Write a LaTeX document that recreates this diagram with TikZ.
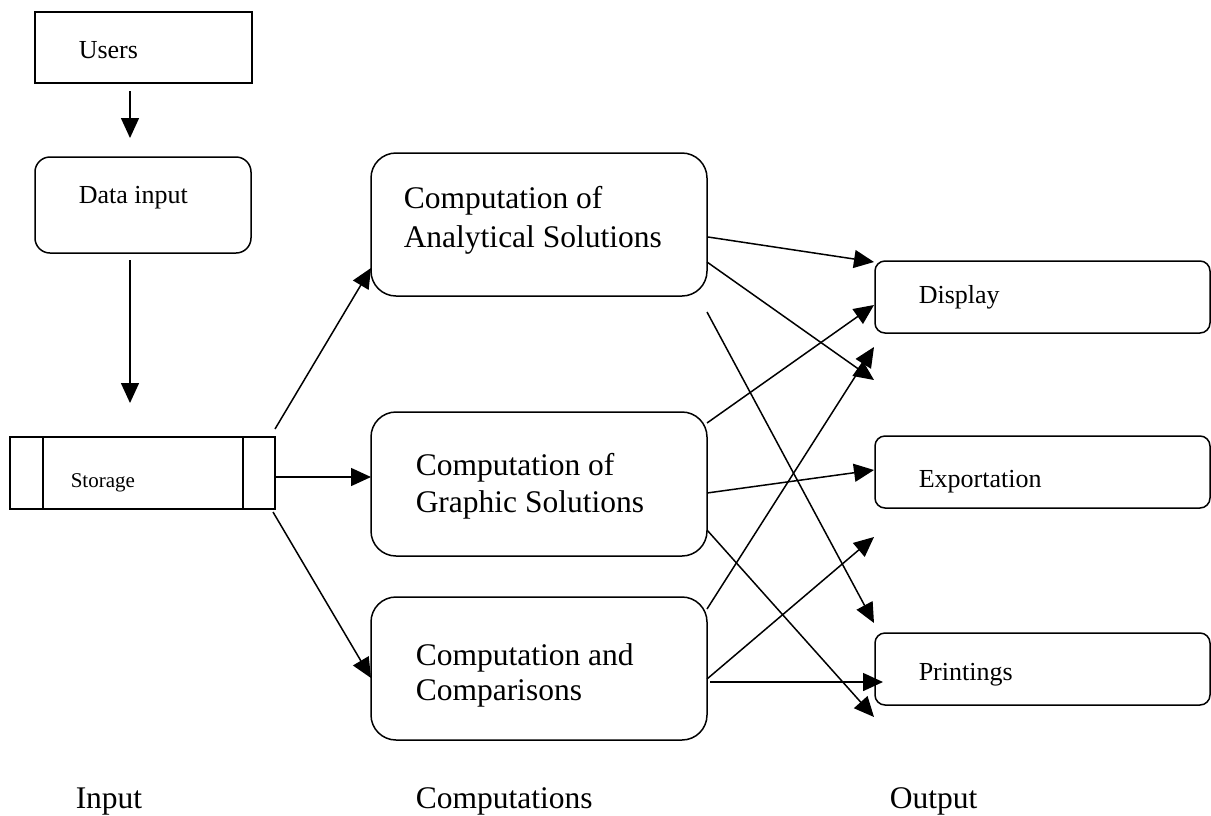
\documentclass[tikz,border=0pt]{standalone}
\usepackage{fontspec}
\setmainfont{Liberation Serif}
\usetikzlibrary{arrows.meta}
\begin{document}
\begin{tikzpicture}[x=1pt,y=-1pt,line width=1.5pt,
  >={Triangle[length=20pt,width=18pt]},
  sqbox/.style={draw,rectangle,inner sep=0pt,outer sep=0pt},
  rbox/.style={draw,rectangle,rounded corners=#1,inner sep=0pt,outer sep=0pt},
  smalltxt/.style={anchor=base west,inner sep=0pt,font=\fontsize{26}{30}\selectfont},
  bigtxt/.style={anchor=base west,inner sep=0pt,font=\fontsize{31.5}{37}\selectfont},
  arr/.style={->}]
\useasboundingbox (0,0) rectangle (1211,815);

% input column
\node[sqbox,minimum width=217pt,minimum height=71pt] (users) at (143.5,47.5) {};
\node[smalltxt] (usersT) at (78,58) {Users};
\node[rbox=15pt,minimum width=216pt,minimum height=96pt] (datain) at (143,205) {};
\node[smalltxt] (datainT) at (78,203) {Data input};
\node[sqbox,minimum width=265pt,minimum height=72pt] (storage) at (142.5,473) {};
\draw ([xshift=33pt]storage.north west) -- ([xshift=33pt]storage.south west);
\draw ([xshift=-32pt]storage.north east) -- ([xshift=-32pt]storage.south east);
\node[anchor=base west,inner sep=0pt,font=\fontsize{21}{24}\selectfont] (storageT) at (70,487) {Storage};

% computation column
\node[rbox=25pt,minimum width=336pt,minimum height=143pt] (ana) at (539,224.5) {};
\node[bigtxt] (anaT1) at (403,208) {Computation of};
\node[bigtxt] (anaT2) at (403,247) {Analytical Solutions};
\node[rbox=25pt,minimum width=336pt,minimum height=144pt] (gra) at (539,484) {};
\node[bigtxt] (graT1) at (415,475) {Computation of};
\node[bigtxt] (graT2) at (415,512) {Graphic Solutions};
\node[rbox=25pt,minimum width=336pt,minimum height=143pt] (cmp) at (539,668.5) {};
\node[bigtxt] (cmpT1) at (415,665) {Computation and};
\node[bigtxt] (cmpT2) at (415,700) {Comparisons};

% output column
\node[rbox=10pt,minimum width=335pt,minimum height=72pt] (disp) at (1042.5,297) {};
\node[smalltxt] (dispT) at (918,303) {Display};
\node[rbox=10pt,minimum width=335pt,minimum height=72pt] (expo) at (1042.5,472) {};
\node[smalltxt] (expoT) at (918,487) {Exportation};
\node[rbox=10pt,minimum width=335pt,minimum height=72pt] (prnt) at (1042.5,669) {};
\node[smalltxt] (prntT) at (918,680) {Printings};

% column labels
\node[bigtxt] (inputL) at (75,808) {Input};
\node[bigtxt] (compL) at (415,808) {Computations};
\node[bigtxt] (outL) at (889,808) {Output};

% free arrow ends
\coordinate (s1) at (275,429);
\coordinate (s3) at (273,512);
\coordinate (a1s) at (708,237);
\coordinate (a2s) at (707,262);
\coordinate (a3s) at (707,312);
\coordinate (g1s) at (707,423);
\coordinate (g2s) at (707,493);
\coordinate (g3s) at (707,530);
\coordinate (c1s) at (707,609);
\coordinate (c2s) at (707,679);
\coordinate (c3s) at (710,682);
\coordinate (t1) at (874,262);
\coordinate (t2) at (874,380);
\coordinate (t3) at (874,623);
\coordinate (t4) at (874,305);
\coordinate (t5) at (874,470);
\coordinate (t6) at (874,717);
\coordinate (t7) at (874,347);
\coordinate (t8) at (874,537);
\coordinate (t9) at (883,682);

% input connectors
\draw[arr] ([yshift=-8pt]users.south -| 130,0) -- ([yshift=19pt]datain.north -| 130,0);
\draw[arr] ([yshift=-7pt]datain.south -| 130,0) -- ([yshift=34pt]storage.north -| 130,0);
\draw[arr] (s1) -- (ana.west |- 0,268);
\draw[arr] (storage.east |- 0,477) -- (gra.west |- 0,477);
\draw[arr] (s3) -- (cmp.west |- 0,678);

% output connectors
\draw[arr] (a1s) -- (t1);
\draw[arr] (a2s) -- (t2);
\draw[arr] (a3s) -- (t3);
\draw[arr] (g1s) -- (t4);
\draw[arr] (g2s) -- (t5);
\draw[arr] (g3s) -- (t6);
\draw[arr] (c1s) -- (t7);
\draw[arr] (c2s) -- (t8);
\draw[arr] (c3s) -- (t9);
\end{tikzpicture}
\end{document}
